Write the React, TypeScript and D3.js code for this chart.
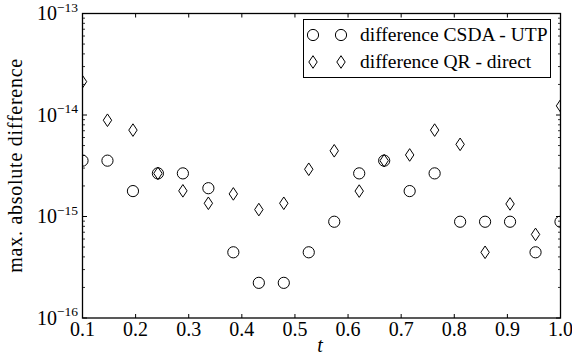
import React from "react";
import * as d3 from "d3";

const tValues = [
  0.1, 0.147, 0.195, 0.242, 0.289, 0.337, 0.384, 0.432, 0.479, 0.526,
  0.574, 0.621, 0.668, 0.716, 0.763, 0.811, 0.858, 0.905, 0.953, 1.0,
];
const csdaUtp = [
  3.55e-15, 3.55e-15, 1.78e-15, 2.66e-15, 2.66e-15, 1.9e-15, 4.44e-16, 2.22e-16, 2.22e-16, 4.44e-16,
  8.88e-16, 2.66e-15, 3.55e-15, 1.78e-15, 2.66e-15, 8.88e-16, 8.88e-16, 8.88e-16, 4.44e-16, 8.88e-16,
];
const qrDirect = [
  2.13e-14, 8.88e-15, 7.1e-15, 2.66e-15, 1.79e-15, 1.35e-15, 1.67e-15, 1.17e-15, 1.35e-15, 2.92e-15,
  4.44e-15, 1.78e-15, 3.55e-15, 4.04e-15, 7.1e-15, 5.14e-15, 4.44e-16, 1.33e-15, 6.66e-16, 1.23e-14,
];
const xTicks = [0.1, 0.2, 0.3, 0.4, 0.5, 0.6, 0.7, 0.8, 0.9, 1.0];
const yExponents = [-16, -15, -14, -13];
const legendLabels = ["difference CSDA - UTP", "difference QR - direct"];

const W = 572;
const H = 356;
const m = { left: 82.5, right: 560.5, top: 13.5, bottom: 318 };
const font = "Liberation Serif, Times New Roman, Times, serif";

const Circle = ({ x, y }: { x: number; y: number }) => (
  <circle cx={x} cy={y} r={5.6} fill="none" stroke="#000" strokeWidth={1} />
);
const Diamond = ({ x, y }: { x: number; y: number }) => (
  <path
    d={`M${x},${y - 6.3}L${x + 4.2},${y}L${x},${y + 6.3}L${x - 4.2},${y}Z`}
    fill="none"
    stroke="#000"
    strokeWidth={1}
  />
);

export default function App() {
  const x = d3.scaleLinear().domain([0.1, 1.0]).range([m.left, m.right]);
  const y = d3.scaleLog().domain([1e-16, 1e-13]).range([m.bottom, m.top]);

  const minor: number[] = [];
  for (let e = -16; e < -13; e++) {
    for (let k = 2; k <= 9; k++) minor.push(k * Math.pow(10, e));
  }

  const ts = { fontFamily: font };

  return (
    <svg
      width={W}
      height={H}
      style={{ position: "absolute", left: 0, top: 0, background: "#fff", fontFamily: font }}
    >
      <defs>
        <clipPath id="plot">
          <rect x={m.left} y={m.top} width={m.right - m.left} height={m.bottom - m.top} />
        </clipPath>
      </defs>

      {/* ticks */}
      {xTicks.map((t) => (
        <g key={t}>
          <line x1={x(t)} x2={x(t)} y1={m.bottom} y2={m.bottom - 4} stroke="#000" />
          <line x1={x(t)} x2={x(t)} y1={m.top} y2={m.top + 4} stroke="#000" />
          <text x={x(t)} y={m.bottom + 18} textAnchor="middle" fontSize={20} style={ts}>
            {t.toFixed(1)}
          </text>
        </g>
      ))}
      {yExponents.map((e) => {
        const yy = y(Math.pow(10, e));
        return (
          <g key={e}>
            <line x1={m.left} x2={m.left + 4.5} y1={yy} y2={yy} stroke="#000" />
            <line x1={m.right} x2={m.right - 4.5} y1={yy} y2={yy} stroke="#000" />
            <text x={78} y={yy + 6.5} textAnchor="end" fontSize={20} style={ts}>
              10
              <tspan fontSize={13.5} dy={-8.5}>
                {"\u2212" + Math.abs(e)}
              </tspan>
            </text>
          </g>
        );
      })}
      {minor.map((v, i) => (
        <g key={i}>
          <line x1={m.left} x2={m.left + 2.5} y1={y(v)} y2={y(v)} stroke="#000" strokeWidth={0.8} />
          <line x1={m.right} x2={m.right - 2.5} y1={y(v)} y2={y(v)} stroke="#000" strokeWidth={0.8} />
        </g>
      ))}

      {/* data */}
      <g clipPath="url(#plot)">
        {tValues.map((t, i) => (
          <Circle key={"c" + i} x={x(t)} y={y(csdaUtp[i])} />
        ))}
        {tValues.map((t, i) => (
          <Diamond key={"d" + i} x={x(t)} y={y(qrDirect[i])} />
        ))}
      </g>

      <rect
        x={m.left}
        y={m.top}
        width={m.right - m.left}
        height={m.bottom - m.top}
        fill="none"
        stroke="#000"
        strokeWidth={1.3}
      />

      {/* legend */}
      <rect x={303.5} y={19.5} width={247} height={58} fill="#fff" stroke="#000" strokeWidth={1} />
      {legendLabels.map((lab, i) => {
        const ly = 35 + i * 27;
        return (
          <g key={lab}>
            {i === 0 ? (
              <>
                <Circle x={313} y={ly} />
                <Circle x={341} y={ly} />
              </>
            ) : (
              <>
                <Diamond x={313} y={ly} />
                <Diamond x={341} y={ly} />
              </>
            )}
            <text x={360} y={ly + 6} fontSize={19.5} style={ts}>
              {lab}
            </text>
          </g>
        );
      })}

      {/* axis labels */}
      <text x={320} y={352} textAnchor="middle" fontSize={20} fontStyle="italic" style={ts}>
        t
      </text>
      <text
        transform={`translate(22,${(m.top + m.bottom) / 2}) rotate(-90)`}
        textAnchor="middle"
        fontSize={20}
        textLength={214}
        lengthAdjust="spacing"
        style={ts}
      >
        max. absolute difference
      </text>
    </svg>
  );
}
